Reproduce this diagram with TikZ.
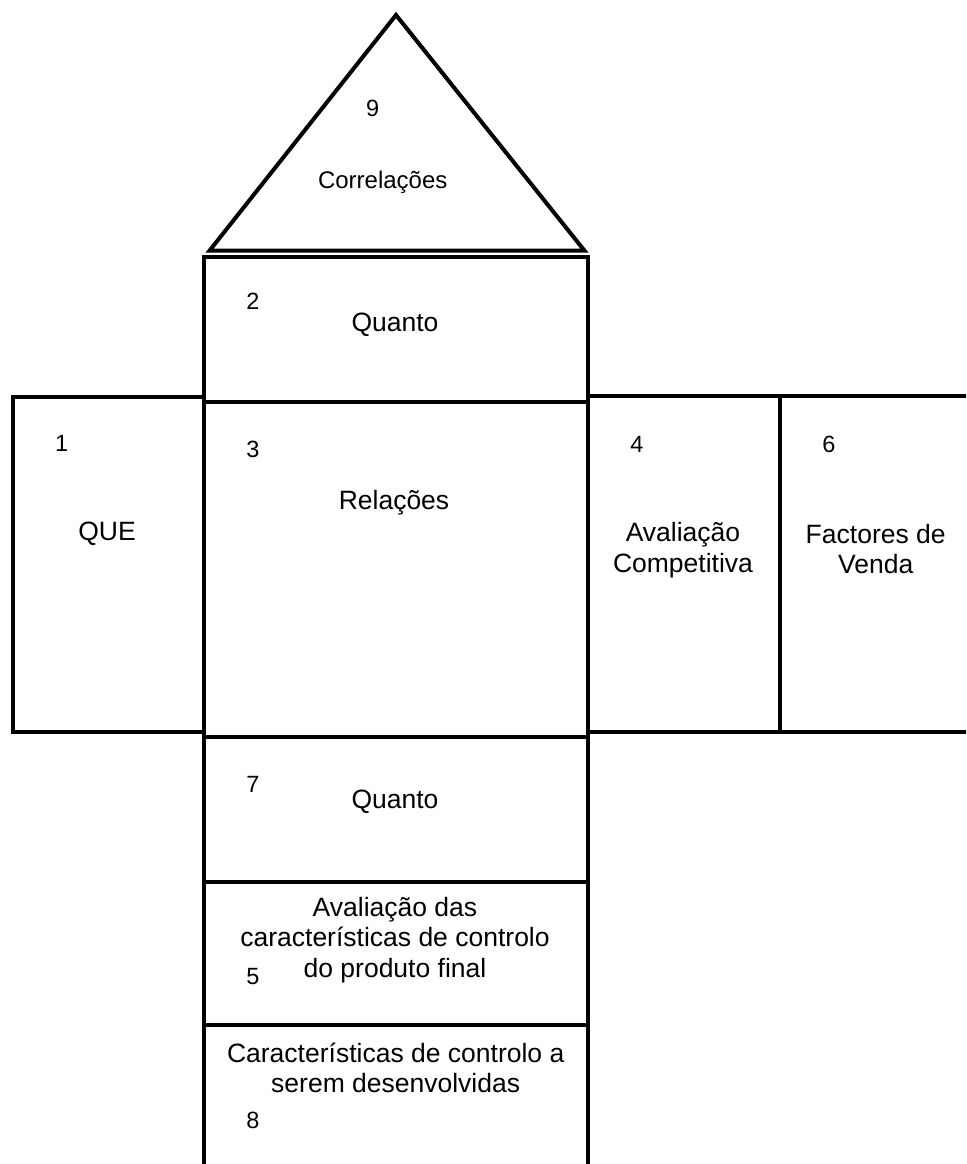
\documentclass[tikz,border=0pt]{standalone}
\usepackage{fontspec}
\setmainfont{Liberation Sans}
\begin{document}
\begin{tikzpicture}[x=1pt,y=-1pt,
  frame/.style={line width=4pt, line join=miter},
  lbl/.style={font=\fontsize{26.5}{30.5}\selectfont, align=center, inner sep=0pt},
  rooflbl/.style={font=\fontsize{24}{28}\selectfont, inner sep=0pt},
  num/.style={font=\fontsize{23.5}{28}\selectfont, inner sep=0pt}]
\useasboundingbox (0,0) rectangle (966,1164);
\begin{scope}
  \clip (0,0) rectangle (966,1164);
  % roof of the house
  \draw[frame] (396,15) -- (584.5,250.7) -- (209.5,250.7) -- cycle;
  % central column
  \draw[frame] (204,257) rectangle (587.7,402);
  \draw[frame] (204,402) rectangle (587.7,737);
  \draw[frame] (204,737) rectangle (587.7,882);
  \draw[frame] (204,882) rectangle (587.7,1025);
  \draw[frame] (204,1025) rectangle (587.7,1190);
  % left wing
  \draw[frame] (12.7,396.7) rectangle (204,731.7);
  % right wings
  \draw[frame] (587.7,396.3) rectangle (780,731.7);
  \draw[frame] (780,396.3) rectangle (990,731.7);
\end{scope}

% texts
\node[num] (n9) at (372.7,108) {9};
\node[rooflbl] (correl) at (382.7,182) {Correlações};

\node[num] (n2) at (253,301) {2};
\node[lbl] (quantoA) at (395,325) {Quanto};

\node[num] (n1) at (61.7,443) {1};
\node[lbl] (que) at (107,534) {QUE};

\node[num] (n3) at (253,449) {3};
\node[lbl] (rel) at (394,503) {Relações};

\node[num] (n4) at (637,444) {4};
\node[lbl] (aval) at (683,550) {Avaliação\\Competitiva};

\node[num] (n6) at (829,444) {6};
\node[lbl] (fact) at (875.7,549) {Factores de\\Venda};

\node[num] (n7) at (253,784) {7};
\node[lbl] (quantoB) at (395,802) {Quanto};

\node[lbl] (avalctrl) at (395,940) {Avaliação das\\características de controlo\\do produto final};
\node[num] (n5) at (253,977) {5};

\node[lbl] (caract) at (395.7,1068) {Características de controlo a\\serem desenvolvidas};
\node[num] (n8) at (253,1120) {8};
\end{tikzpicture}
\end{document}
